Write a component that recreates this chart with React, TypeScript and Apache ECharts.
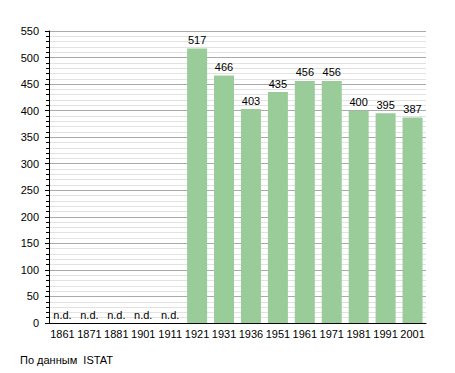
import React, { useEffect, useRef } from "react";
import * as echarts from "echarts";

const years = ["1861", "1871", "1881", "1901", "1911", "1921", "1931", "1936", "1951", "1961", "1971", "1981", "1991", "2001"];
const population: (number | null)[] = [null, null, null, null, null, 517, 466, 403, 435, 456, 456, 400, 395, 387];
const yTicks = { min: 0, max: 550, interval: 50 };
const sourceNote = "По данным  ISTAT";

export default function App() {
  const ref = useRef<HTMLDivElement>(null);
  useEffect(() => {
    if (!ref.current) return;
    const chart = echarts.init(ref.current, null, { renderer: "svg" });
    const font = "'Liberation Sans', Arial, sans-serif";
    chart.setOption({
      animation: false,
      backgroundColor: "#ffffff",
      textStyle: { fontFamily: font },
      grid: { left: 49, right: 29, top: 31, bottom: 50, containLabel: false },
      xAxis: {
        type: "category",
        data: years,
        axisLine: { show: true, lineStyle: { color: "#000", width: 1 } },
        axisTick: { show: false },
        axisLabel: { color: "#000", fontSize: 11, fontFamily: font, margin: 5, interval: 0 },
      },
      yAxis: {
        type: "value",
        min: yTicks.min,
        max: yTicks.max,
        interval: yTicks.interval,
        axisLine: { show: true, lineStyle: { color: "#000", width: 1 } },
        axisTick: { show: true, length: 4, inside: false, lineStyle: { color: "#000" } },
        minorTick: { show: true, splitNumber: 5, length: 3, lineStyle: { color: "#000" } },
        splitLine: { show: true, lineStyle: { color: "#aaaaaa", width: 1 } },
        minorSplitLine: { show: true, lineStyle: { color: "#e2e2e2", width: 1 } },
        axisLabel: { color: "#000", fontSize: 11, fontFamily: font, margin: 10 },
      },
      series: [
        {
          type: "bar",
          data: population.map((v) => (v === null ? 0 : v)),
          barWidth: 20,
          itemStyle: { color: "#99cc99" },
          label: {
            show: true,
            position: "top",
            distance: 3,
            color: "#000",
            fontSize: 11,
            fontFamily: font,
            formatter: (p: any) => (population[p.dataIndex] === null ? "n.d." : String(p.value)),
          },
        },
      ],
      graphic: [
        {
          type: "text",
          left: 20,
          top: 354,
          style: { text: sourceNote, fill: "#000", fontSize: 11, fontFamily: font },
        },
      ],
    });
    return () => chart.dispose();
  }, []);
  return <div ref={ref} style={{ position: "fixed", left: 0, top: 0, width: 455, height: 373 }} />;
}
